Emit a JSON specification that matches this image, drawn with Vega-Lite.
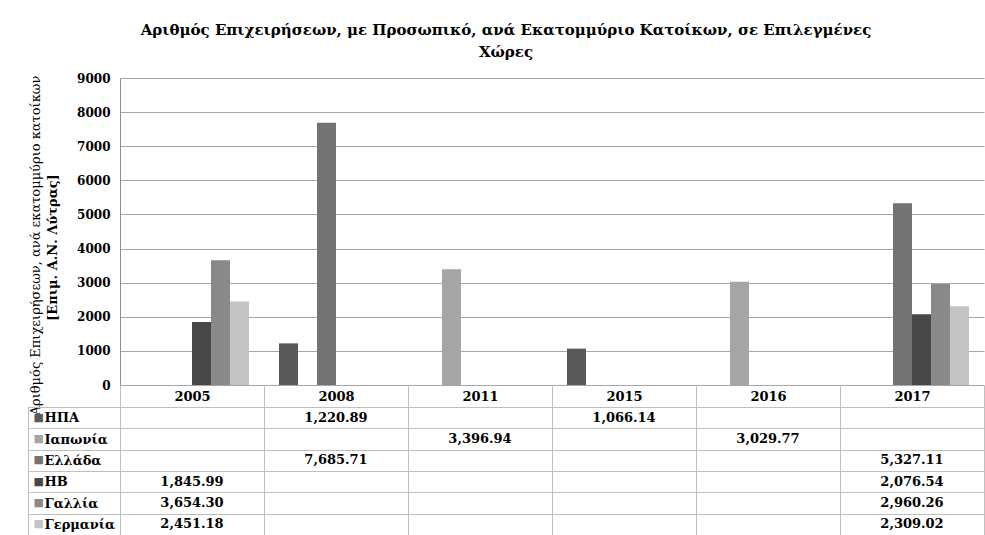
{
  "$schema": "https://vega.github.io/schema/vega-lite/v6.json",
  "padding": {"left": 27, "top": 23, "right": 0, "bottom": 0},
  "background": "white",
  "bounds": "flush",
  "spacing": 22,
  "title": {
    "text": ["Αριθμός Επιχειρήσεων, με Προσωπικό, ανά Εκατομμύριο Κατοίκων, σε Επιλεγμένες", "Χώρες"],
    "font": "DejaVu Serif", "fontSize": 15, "fontWeight": "bold", "color": "#000000",
    "anchor": "middle", "lineHeight": 22, "offset": 12
  },
  "config": {"view": {"stroke": null}},
  "datasets": {
    "d": [
      {"year": "2005", "series": "ΗΒ", "value": 1845.99},
      {"year": "2005", "series": "Γαλλία", "value": 3654.30},
      {"year": "2005", "series": "Γερμανία", "value": 2451.18},
      {"year": "2008", "series": "ΗΠΑ", "value": 1220.89},
      {"year": "2008", "series": "Ελλάδα", "value": 7685.71},
      {"year": "2011", "series": "Ιαπωνία", "value": 3396.94},
      {"year": "2015", "series": "ΗΠΑ", "value": 1066.14},
      {"year": "2016", "series": "Ιαπωνία", "value": 3029.77},
      {"year": "2017", "series": "Ελλάδα", "value": 5327.11},
      {"year": "2017", "series": "ΗΒ", "value": 2076.54},
      {"year": "2017", "series": "Γαλλία", "value": 2960.26},
      {"year": "2017", "series": "Γερμανία", "value": 2309.02}
    ]
  },
  "vconcat": [
    {
      "width": 864,
      "height": 307,
      "data": {"name": "d"},
      "layer": [
        {
          "mark": {"type": "bar"},
          "encoding": {
            "x": {"field": "year", "type": "nominal", "scale": {"domain": ["2005", "2008", "2011", "2015", "2016", "2017"], "paddingInner": 0, "paddingOuter": 0}, "axis": null},
            "xOffset": {"field": "series", "type": "nominal", "scale": {"domain": ["ΗΠΑ", "Ιαπωνία", "Ελλάδα", "ΗΒ", "Γαλλία", "Γερμανία"], "paddingInner": 0, "paddingOuter": 0.79}},
            "y": {"field": "value", "type": "quantitative", "scale": {"domain": [0, 9000], "nice": false},
              "axis": {"orient": "left", "values": [0, 1000, 2000, 3000, 4000, 5000, 6000, 7000, 8000, 9000], "format": "d",
                "domain": true, "domainColor": "#8c8c8c", "ticks": false, "labelFont": "DejaVu Serif", "labelFontWeight": "bold",
                "labelFontSize": 12, "labelColor": "#000000", "labelPadding": 10, "grid": true, "gridColor": "#a6a6a6",
                "title": "Αριθμός Επιχειρήσεων, ανά εκατομμύριο κατοίκων", "titleFont": "DejaVu Serif", "titleFontWeight": "normal",
                "titleFontSize": 13, "titleColor": "#000000", "titleX": -78, "titleY": 167}},
            "color": {"field": "series", "type": "nominal", "scale": {"domain": ["ΗΠΑ", "Ιαπωνία", "Ελλάδα", "ΗΒ", "Γαλλία", "Γερμανία"], "range": ["#595959", "#a5a5a5", "#737373", "#474747", "#898989", "#c3c3c3"]}, "legend": null}
          }
        },
        {
          "mark": {"type": "bar", "opacity": 0},
          "encoding": {
            "x": {"field": "year", "type": "nominal", "axis": null},
            "xOffset": {"field": "series", "type": "nominal"},
            "y": {"field": "value", "type": "quantitative",
              "axis": {"orient": "left", "labels": false, "ticks": false, "domain": false, "grid": false,
                "title": "[Επιμ. Α.Ν. Λύτρας]", "titleFont": "DejaVu Serif", "titleFontWeight": "bold", "titleFontSize": 13,
                "titleColor": "#000000", "titleX": -61, "titleY": 169}}
          }
        }
      ],
      "resolve": {"axis": {"y": "independent"}}
    },
    {
      "width": 864,
      "height": 128,
      "data": {"name": "d"},
      "layer": [
        {
          "mark": {"type": "text", "font": "DejaVu Serif", "fontWeight": "bold", "fontSize": 13, "color": "#000000"},
          "encoding": {
            "x": {"field": "year", "type": "nominal", "scale": {"domain": ["2005", "2008", "2011", "2015", "2016", "2017"], "paddingInner": 0, "paddingOuter": 0},
              "axis": {"orient": "top", "tickBand": "extent", "ticks": true, "tickSize": 22, "tickColor": "#bfbfbf", "domain": false,
                "labelFont": "DejaVu Serif", "labelFontWeight": "bold", "labelFontSize": 13, "labelColor": "#000000",
                "labelPadding": -11, "labelBaseline": "middle", "labelAngle": 0, "grid": true, "gridColor": "#bfbfbf", "title": null}},
            "y": {"field": "series", "type": "nominal", "scale": {"domain": ["ΗΠΑ", "Ιαπωνία", "Ελλάδα", "ΗΒ", "Γαλλία", "Γερμανία"], "paddingInner": 0, "paddingOuter": 0},
              "axis": {"orient": "left", "tickBand": "extent", "ticks": true, "tickSize": 92, "tickColor": "#bfbfbf", "domain": false,
                "labelFont": "DejaVu Serif", "labelFontWeight": "bold", "labelFontSize": 13, "labelColor": "#000000",
                "labelAlign": "left", "labelBaseline": "middle", "labelPadding": -16, "grid": true, "gridColor": "#bfbfbf", "title": null}},
            "text": {"field": "value", "type": "quantitative", "format": ",.2f"}
          }
        },
        {
          "mark": {"type": "rect", "opacity": 0},
          "encoding": {
            "x": {"field": "year", "type": "nominal"},
            "y": {"field": "series", "type": "nominal",
              "axis": {"orient": "left", "offset": 92, "domain": true, "domainColor": "#bfbfbf", "ticks": false, "tickSize": 0, "grid": false,
                "labelExpr": "'■'", "labelFont": "DejaVu Sans", "labelFontSize": 11, "labelAlign": "left", "labelBaseline": "middle",
                "labelPadding": -5,
                "labelColor": {"condition": [
                  {"test": "datum.value === 'ΗΠΑ'", "value": "#595959"},
                  {"test": "datum.value === 'Ιαπωνία'", "value": "#a5a5a5"},
                  {"test": "datum.value === 'Ελλάδα'", "value": "#737373"},
                  {"test": "datum.value === 'ΗΒ'", "value": "#474747"},
                  {"test": "datum.value === 'Γαλλία'", "value": "#898989"}
                ], "value": "#c3c3c3"},
                "title": null}}
          }
        }
      ],
      "resolve": {"axis": {"y": "independent"}}
    }
  ]
}
